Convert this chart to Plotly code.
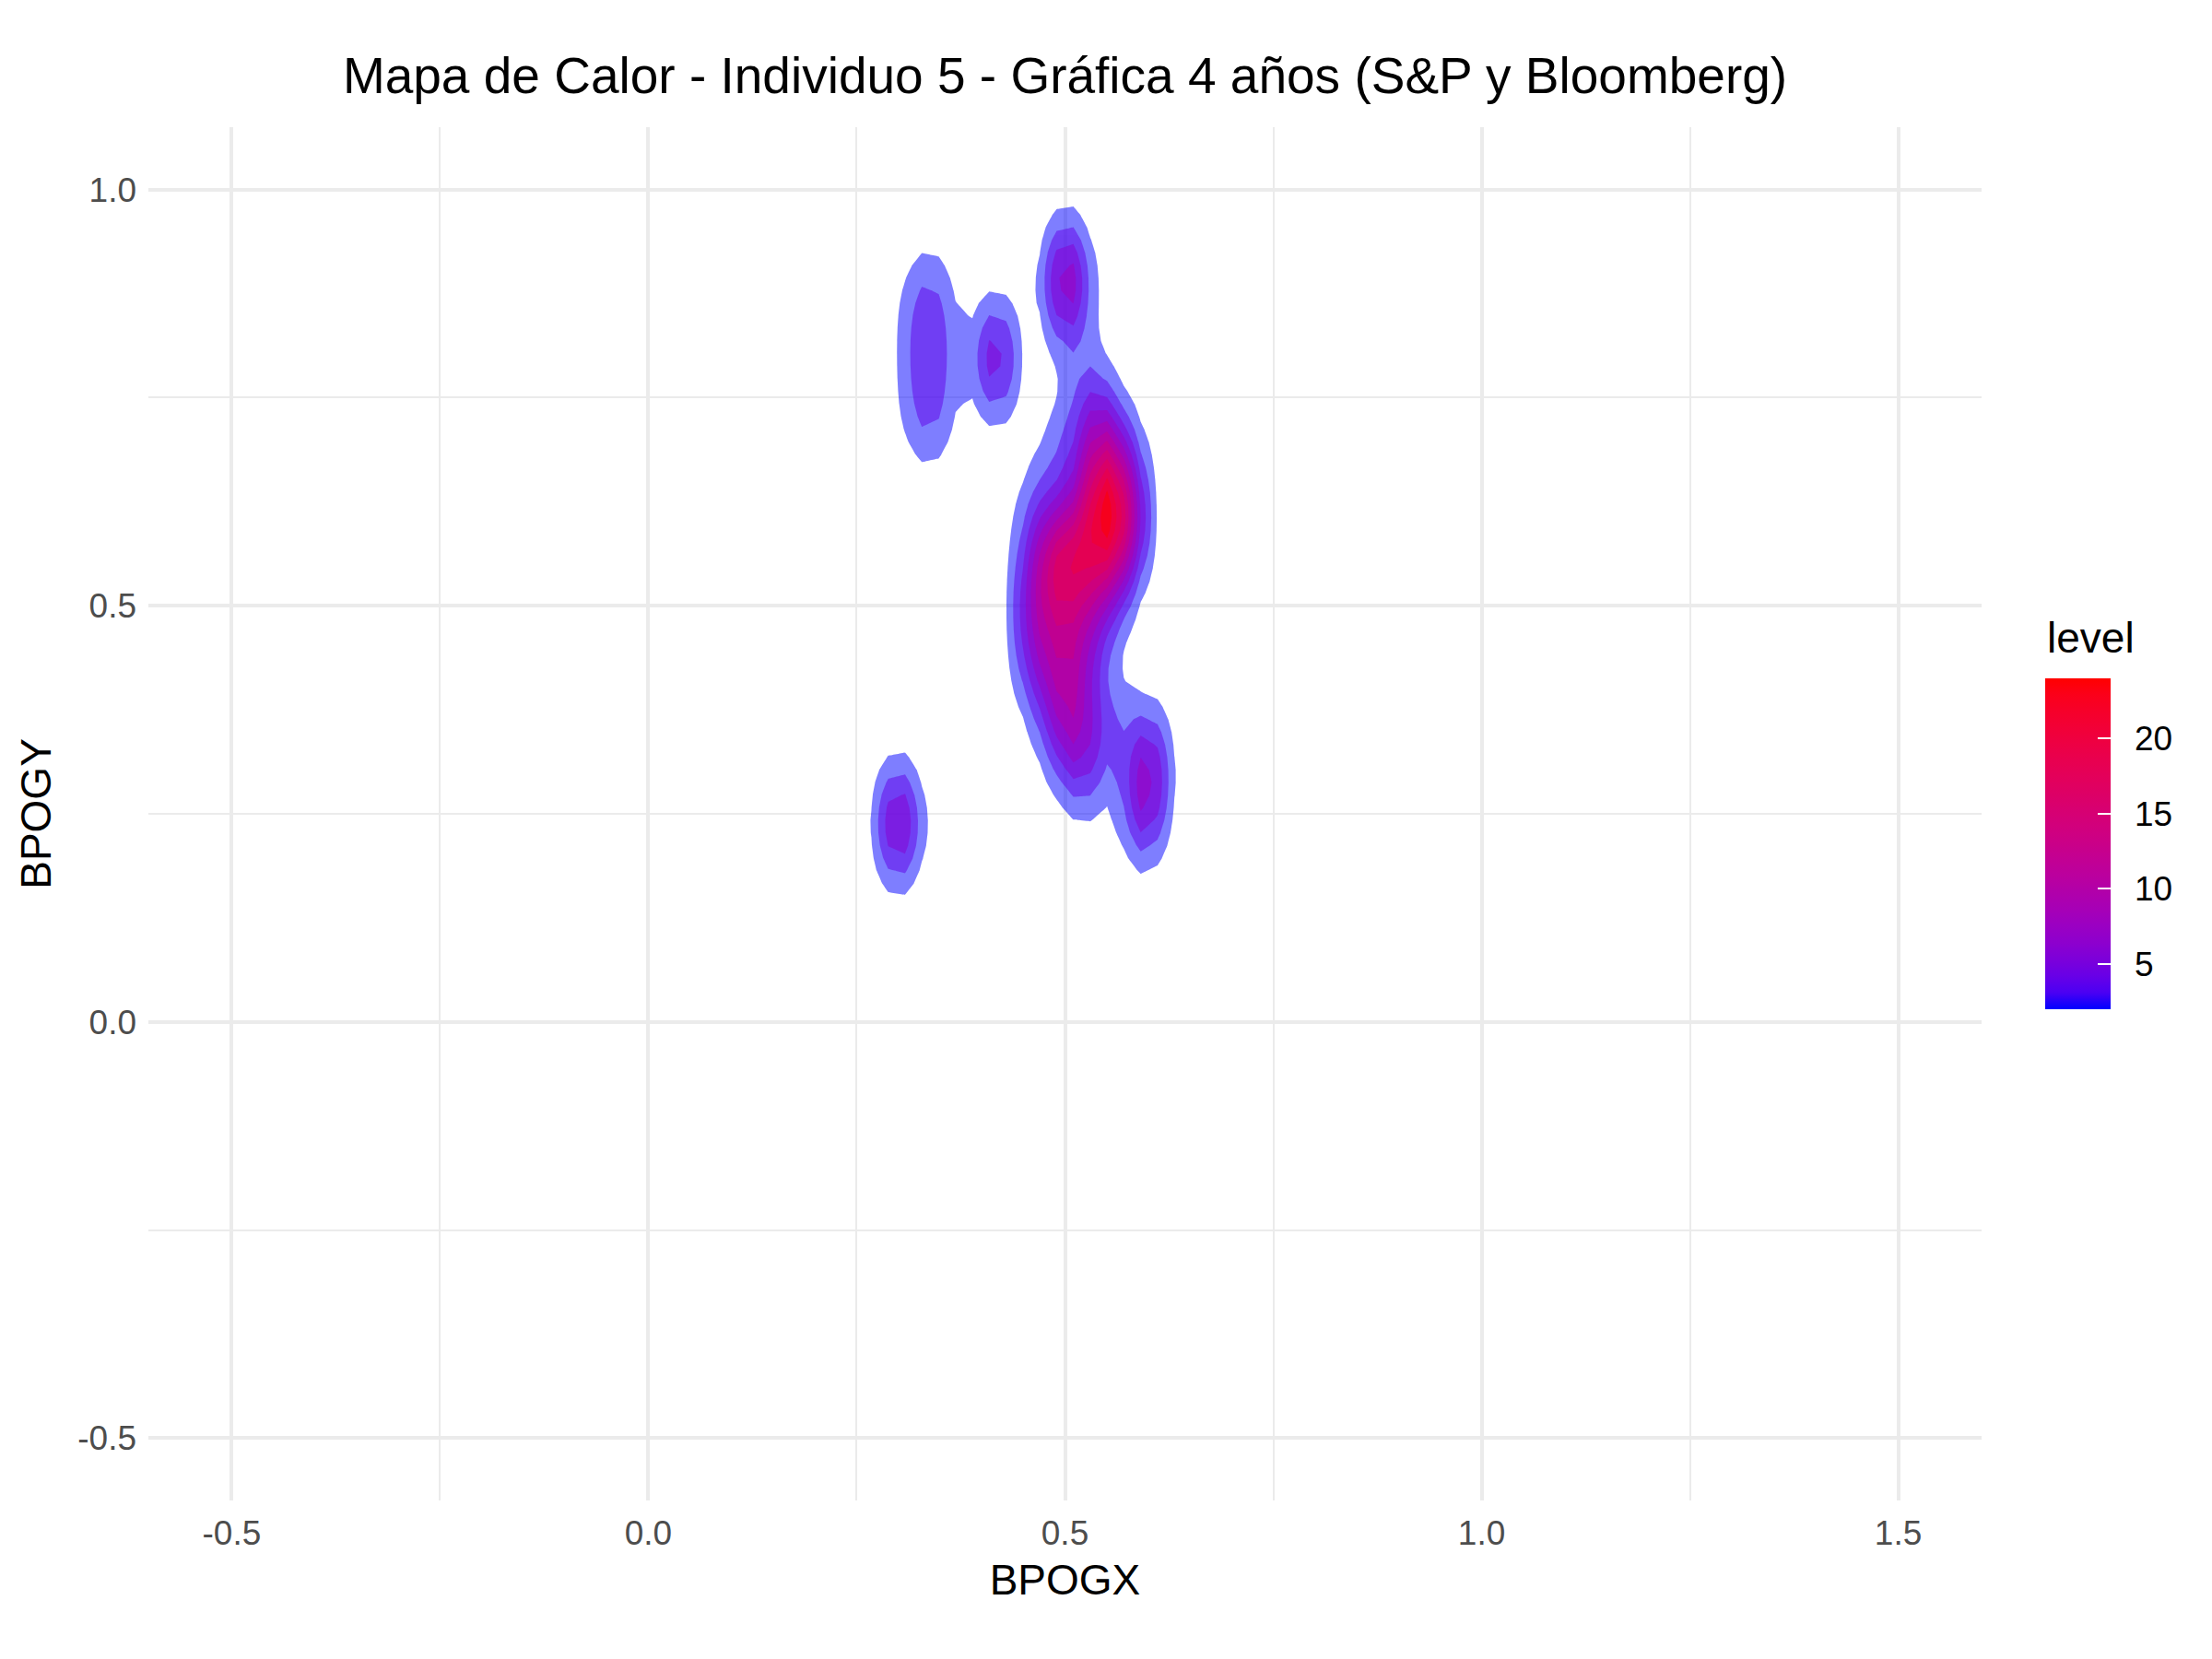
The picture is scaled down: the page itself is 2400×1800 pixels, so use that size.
import numpy as np
import plotly.graph_objects as go

# ---------------- data (estimated gaze-cluster sample locations and counts) ----------------
pts_x = [0.300,
         0.3235, 0.3235, 0.3235, 0.3475, 0.3475, 0.3475,
         0.417, 0.502, 0.595, 0.600,
         0.555, 0.545, 0.535, 0.530, 0.580, 0.525, 0.490, 0.520, 0.555, 0.470,
         0.500, 0.530, 0.470, 0.505, 0.495, 0.520, 0.525, 0.555, 0.455, 0.455,
         0.465, 0.495, 0.505, 0.575]
pts_y = [0.238,
         0.728, 0.800, 0.868, 0.728, 0.800, 0.868,
         0.797, 0.890, 0.255, 0.315,
         0.610, 0.670, 0.725, 0.785, 0.600, 0.590, 0.550, 0.540, 0.540, 0.490,
         0.465, 0.470, 0.420, 0.410, 0.350, 0.340, 0.290, 0.360, 0.530, 0.460,
         0.610, 0.680, 0.780, 0.680]
pts_n = [82,
         20, 20, 20, 20, 20, 20,
         70, 93, 55, 55,
         138, 80, 35, 10, 46, 69, 115, 69, 58, 40,
         45, 35, 35, 58, 35, 46, 18, 25, 20, 15,
         25, 25, 6, 20]

bw_x, bw_y = 0.0195, 0.052          # kernel sd (x, y)
x_lims = [-0.5, 1.5]
y_lims = [-0.5, 1.0]
grid_n = 100

levels = [2, 4, 6, 8, 10, 12, 14, 16, 18, 20, 22, 24]
cbar_ticks = [5, 10, 15, 20]
x_ticks = [-0.5, 0.0, 0.5, 1.0, 1.5]
x_labels = ["-0.5", "0.0", "0.5", "1.0", "1.5"]
y_ticks = [-0.5, 0.0, 0.5, 1.0]
y_labels = ["-0.5", "0.0", "0.5", "1.0"]
x_minor = [-0.25, 0.25, 0.75, 1.25]
y_minor = [-0.25, 0.25, 0.75]

title_text = "Mapa de Calor - Individuo 5 - Gráfica 4 años (S&P y Bloomberg)"

# ---------------- 2-D kernel density on a grid (as kde2d) ----------------
px_ = np.array(pts_x); py_ = np.array(pts_y); pn = np.array(pts_n, dtype=float)
gx = np.linspace(x_lims[0], x_lims[1], grid_n)
gy = np.linspace(y_lims[0], y_lims[1], grid_n)
phi = lambda u: np.exp(-0.5 * u * u) / np.sqrt(2 * np.pi)
Ax = phi((gx[:, None] - px_[None, :]) / bw_x)
Ay = phi((gy[:, None] - py_[None, :]) / bw_y)
z = (Ay * pn[None, :]) @ Ax.T / (pn.sum() * bw_x * bw_y)

# ---------------- colours: blue -> red gradient in CIELAB ----------------
def _lin(c):
    c = c / 255.0
    return np.where(c <= 0.04045, c / 12.92, ((c + 0.055) / 1.055) ** 2.4)

M = np.array([[0.4124564, 0.3575761, 0.1804375],
              [0.2126729, 0.7151522, 0.0721750],
              [0.0193339, 0.1191920, 0.9503041]])
WP = np.array([0.95047, 1.0, 1.08883])

def rgb2lab(rgb):
    xyz = M @ _lin(np.array(rgb, dtype=float)) / WP
    d = 6 / 29
    f = np.where(xyz > d ** 3, np.cbrt(xyz), xyz / (3 * d * d) + 4 / 29)
    return np.array([116 * f[1] - 16, 500 * (f[0] - f[1]), 200 * (f[1] - f[2])])

def lab2rgb(lab):
    L, a, b = lab
    fy = (L + 16) / 116; fx = fy + a / 500; fz = fy - b / 200
    d = 6 / 29
    f = np.array([fx, fy, fz])
    xyz = np.where(f > d, f ** 3, 3 * d * d * (f - 4 / 29)) * WP
    lin = np.linalg.solve(M, xyz)
    lin = np.clip(lin, 0, 1)
    s = np.where(lin <= 0.0031308, 12.92 * lin, 1.055 * lin ** (1 / 2.4) - 0.055)
    return np.clip(np.round(s * 255), 0, 255).astype(int)

LAB_LOW = rgb2lab([0, 0, 255])
LAB_HIGH = rgb2lab([255, 0, 0])
lo, hi = min(levels), max(levels)

def level_rgb(v):
    t = (v - lo) / (hi - lo)
    return lab2rgb(LAB_LOW + t * (LAB_HIGH - LAB_LOW))

def css(rgb):
    return "rgb(%d,%d,%d)" % tuple(rgb)

fig = go.Figure()

# one translucent filled polygon layer per contour level (alpha 0.5 stacking)
for L in levels:
    fig.add_trace(go.Contour(
        x=gx, y=gy, z=z,
        autocontour=False,
        contours=dict(start=L, end=L, size=2, coloring="fill", showlines=False),
        line=dict(width=0, smoothing=0),
        colorscale=[[0, "rgba(0,0,0,0)"], [1, css(level_rgb(L))]],
        opacity=0.5,
        showscale=False,
        hoverinfo="skip",
    ))

# colour bar (labels) + overlay copy carrying the white inner tick marks
cb_scale = [[i / 20, css(level_rgb(lo + (hi - lo) * i / 20))] for i in range(21)]
panel_l, panel_r, panel_t, panel_b = 161, 2150, 138, 1628
pw, ph = panel_r - panel_l, panel_b - panel_t
cb_geom = dict(thickness=71, thicknessmode="pixels", len=359, lenmode="pixels",
               x=(2219 - panel_l) / pw, xanchor="left",
               y=(panel_b - 915.5) / ph, yanchor="middle",
               xpad=0, ypad=0, outlinewidth=0,
               tickvals=cbar_ticks, ticktext=[str(v) for v in cbar_ticks])
fig.add_trace(go.Scatter(
    x=[None], y=[None], mode="markers", hoverinfo="skip", showlegend=False,
    marker=dict(color=[lo], cmin=lo, cmax=hi, colorscale=cb_scale, showscale=True,
                colorbar=dict(ticks="outside", ticklen=19, tickcolor="rgba(0,0,0,0)",
                              tickfont=dict(size=37, color="black", family="Liberation Sans"),
                              **cb_geom)),
))
fig.add_trace(go.Scatter(
    x=[None], y=[None], mode="markers", hoverinfo="skip", showlegend=False,
    marker=dict(color=[lo], cmin=lo, cmax=hi, colorscale=cb_scale, showscale=True,
                colorbar=dict(ticks="inside", ticklen=14, tickwidth=2, tickcolor="white",
                              showticklabels=False, **cb_geom)),
))

axis_common = dict(
    showgrid=True, gridcolor="#EBEBEB", gridwidth=4,
    zeroline=False, showline=False, ticks="",
    tickfont=dict(size=37, color="#4D4D4D", family="Liberation Sans"),
)
fig.update_layout(
    width=2400, height=1800,
    margin=dict(l=panel_l, r=2400 - panel_r, t=panel_t, b=1800 - panel_b),
    paper_bgcolor="white", plot_bgcolor="white",
    font=dict(family="Liberation Sans"),
    showlegend=False,
    title=dict(text=title_text, x=0.5, xref="paper", xanchor="center",
               y=1 - 82 / 1800, yref="container", yanchor="middle",
               font=dict(size=55, color="black", family="Liberation Sans")),
    xaxis=dict(range=[-0.6, 1.6], tickvals=x_ticks, ticktext=x_labels,
               minor=dict(tickvals=x_minor, showgrid=True, gridcolor="#EBEBEB", gridwidth=2),
               title=dict(text="BPOGX", font=dict(size=46, color="black"), standoff=14),
               ticklabelstandoff=10,
               **axis_common),
    yaxis=dict(range=[-0.575, 1.075], tickvals=y_ticks, ticktext=y_labels,
               minor=dict(tickvals=y_minor, showgrid=True, gridcolor="#EBEBEB", gridwidth=2),
               title=dict(text="BPOGY", font=dict(size=46, color="black"), standoff=14),
               ticklabelstandoff=12,
               **axis_common),
    annotations=[dict(text="level", xref="paper", yref="paper",
                      x=(2219 - panel_l) / pw, xanchor="left",
                      y=(panel_b - 692) / ph, yanchor="middle",
                      showarrow=False,
                      font=dict(size=46, color="black", family="Liberation Sans"))],
)

fig.write_html("out.html")
